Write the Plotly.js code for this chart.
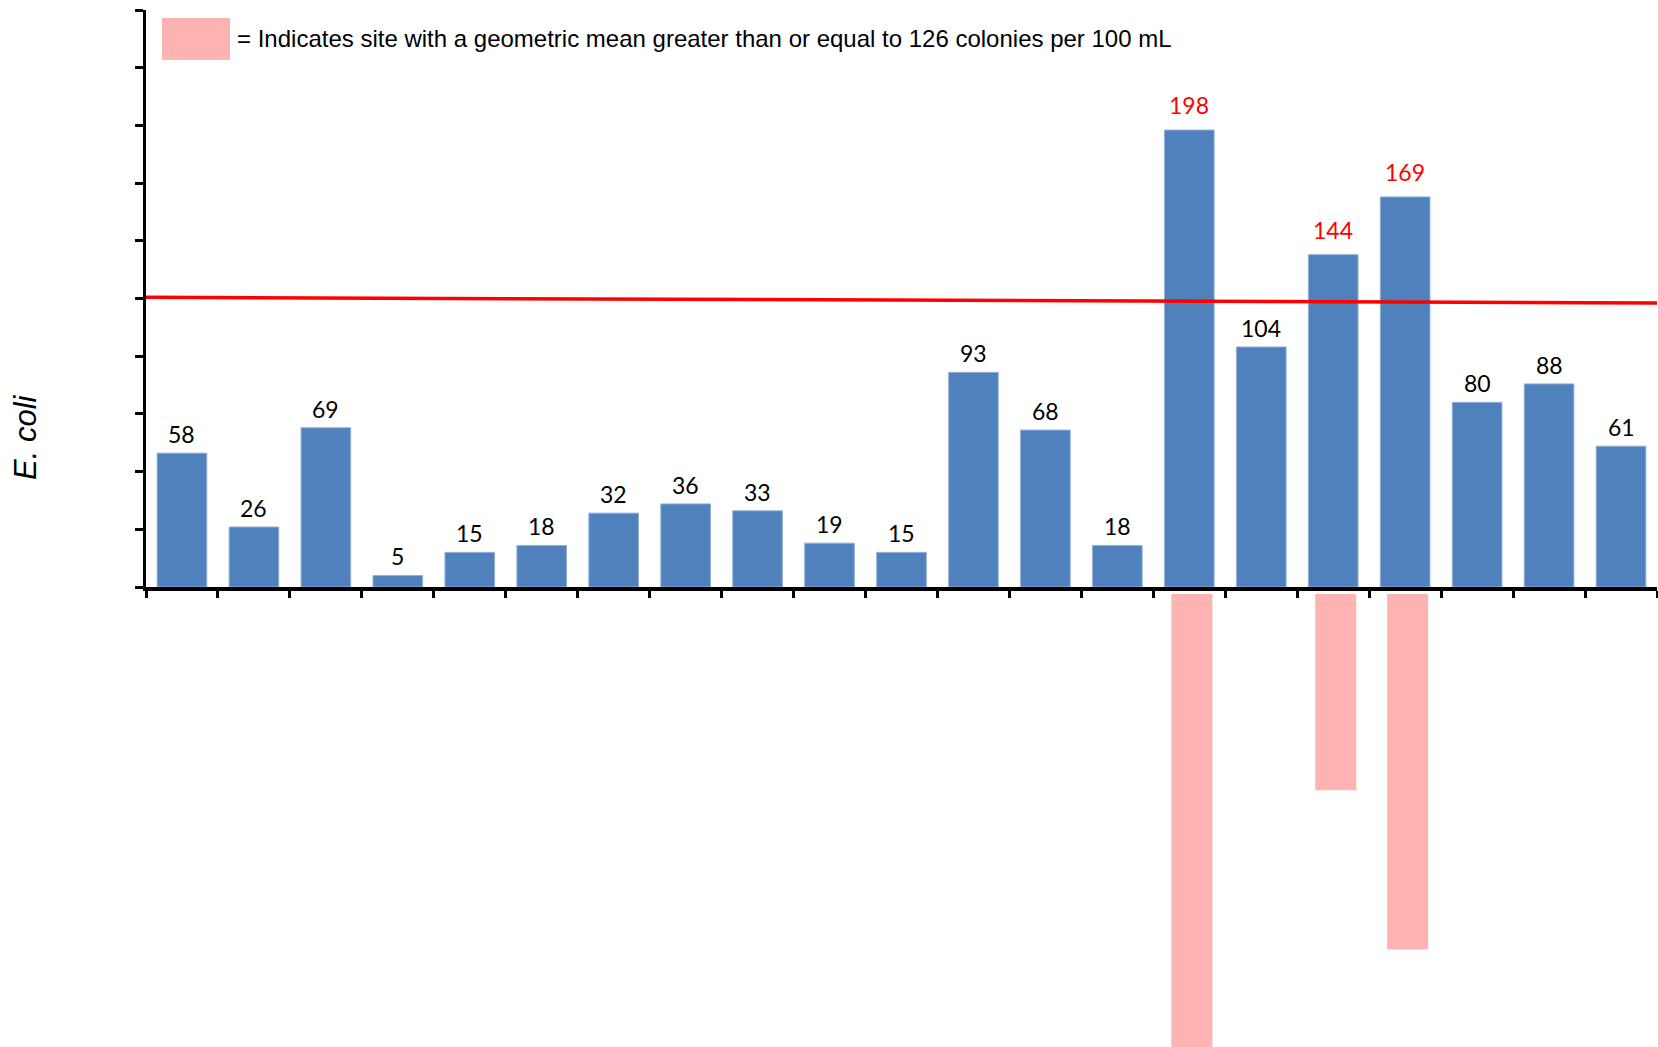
<!DOCTYPE html>
<html>
<head>
<meta charset="utf-8">
<script src="https://cdn.plot.ly/plotly-3.0.1.min.js"></script>
<style>
  html, body { margin: 0; padding: 0; background: #ffffff; }
  #chart { width: 1658px; height: 1047px; }
</style>
</head>
<body>
<div id="chart"></div>
<script>
// ---- data ----
const sites = ["Site 1","Site 2","Site 3","Site 4","Site 5","Site 6","Site 7","Site 8","Site 9","Site 10","Site 11",
               "Site 12","Site 13","Site 14","Site 15","Site 16","Site 17","Site 18","Site 19","Site 20","Site 21"];
const geoMean = [58, 26, 69, 5, 15, 18, 32, 36, 33, 19, 15, 93, 68, 18, 198, 104, 144, 169, 80, 88, 61];
const threshold = 126;
const thresholdLineEnds = [125.5, 123.1];   // red reference line, left and right end (as drawn)
const flaggedSites = ["Site 15", "Site 17", "Site 18"];
const flagLength = [200, 85, 154];           // pink indicator bars below the axis
const legendText = "= Indicates site with a geometric mean greater than or equal to 126 colonies per 100 mL";
const yTitle = "E. coli";

// ---- geometry helpers (pixels -> paper) ----
const W = 1658, H = 1047, ML = 146, MR = 1, MT = 10, MB = 0;
const PW = W - ML - MR, PH = H - MT - MB;
const px = x => (x - ML) / PW;
const py = y => (H - MB - y) / PH;

const blue = '#4F81BD';
const pink = '#FFB3B3';
const red = '#FF0000';

const barTrace = {
  type: 'bar',
  x: sites,
  y: geoMean,
  marker: { color: blue, line: { color: '#93AFD9', width: 1 } },
  width: 0.69,
  hoverinfo: 'x+y',
  showlegend: false,
  xaxis: 'x', yaxis: 'y'
};

const flagTrace = {
  type: 'bar',
  x: flaggedSites,
  y: flagLength,
  marker: { color: pink },
  width: 0.57,
  offset: -0.25,
  hoverinfo: 'x',
  showlegend: false,
  xaxis: 'x', yaxis: 'y2'
};

const annotations = geoMean.map((v, i) => ({
  x: sites[i], y: v, xref: 'x', yref: 'y',
  text: String(v),
  showarrow: false,
  yanchor: 'middle',
  yshift: v >= threshold ? 25 : 19,
  font: { family: 'Lato, "Open Sans", sans-serif', size: 23, color: v >= threshold ? red : '#000000' }
}));

annotations.push({
  x: px(235), y: py(38), xref: 'paper', yref: 'paper',
  xanchor: 'left', yanchor: 'middle',
  text: legendText, showarrow: false,
  font: { family: '"Liberation Sans", Arial, sans-serif', size: 24, color: '#000000' }
});

annotations.push({
  x: px(25), y: py(437), xref: 'paper', yref: 'paper',
  xanchor: 'center', yanchor: 'middle',
  text: '<i>' + yTitle + '</i>', textangle: -90, showarrow: false,
  font: { family: '"Liberation Sans", Arial, sans-serif', size: 31, color: '#000000' }
});

const mainBottom = py(587), flagTop = py(594);

const layout = {
  width: W, height: H,
  margin: { l: ML, r: MR, t: MT, b: MB, pad: 0 },
  paper_bgcolor: '#ffffff', plot_bgcolor: 'rgba(0,0,0,0)',
  showlegend: false,
  bargap: 0.31,
  xaxis: {
    type: 'category', categoryorder: 'array', categoryarray: sites,
    range: [-0.5, sites.length - 0.5],
    anchor: 'y',
    showline: true, linecolor: '#000000', linewidth: 3.5,
    ticks: 'outside', tickson: 'boundaries', ticklen: 7, tickwidth: 3, tickcolor: '#000000',
    showticklabels: false, showgrid: false, zeroline: false, fixedrange: true
  },
  yaxis: {
    domain: [mainBottom, 1],
    range: [0, 250], dtick: 25, tick0: 0,
    anchor: 'x',
    showline: true, linecolor: '#000000', linewidth: 3.5,
    ticks: 'outside', ticklen: 8, tickwidth: 3, tickcolor: '#000000',
    showticklabels: false, showgrid: false, zeroline: false, fixedrange: true
  },
  yaxis2: {
    domain: [0, flagTop],
    range: [(594 - 1047) / -2.308, 0],
    anchor: 'x',
    visible: false, showgrid: false, zeroline: false, fixedrange: true
  },
  shapes: [
    {
      type: 'line', xref: 'paper', yref: 'y',
      x0: 0, x1: 1, y0: thresholdLineEnds[0], y1: thresholdLineEnds[1],
      line: { color: red, width: 3.5 }, layer: 'above'
    },
    {
      type: 'rect', xref: 'paper', yref: 'paper',
      x0: px(162), x1: px(230), y0: py(60), y1: py(18),
      fillcolor: pink, line: { width: 0 }
    }
  ],
  annotations: annotations
};

Plotly.newPlot('chart', [barTrace, flagTrace], layout, { displayModeBar: false, staticPlot: true });
</script>
</body>
</html>
